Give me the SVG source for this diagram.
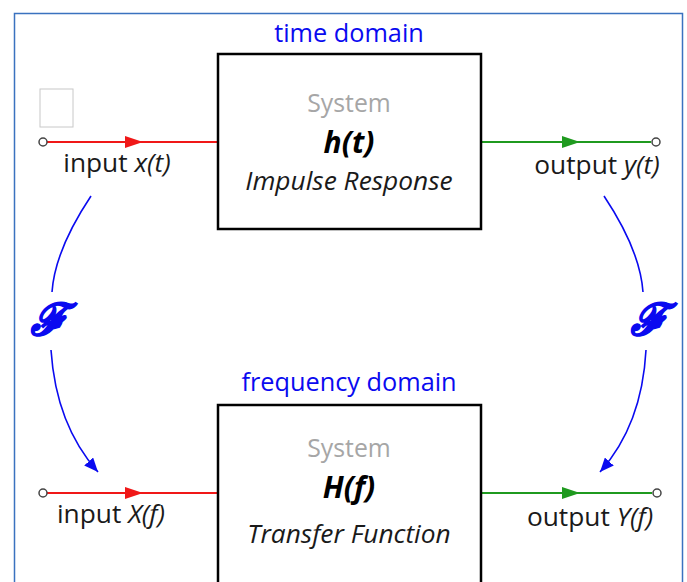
<svg xmlns="http://www.w3.org/2000/svg" width="687" height="582" viewBox="0 0 687 582">
<defs>
<style>
text{font-family:"Open Sans","Liberation Sans",sans-serif;}
.lbl{font-size:26.3px;fill:#1a1a1a;text-anchor:middle;}
.dom{font-size:25.3px;fill:#0a0af0;text-anchor:middle;}
.sys{font-size:24.8px;fill:#a6a6a6;text-anchor:middle;}
.fn{font-size:30px;font-weight:bold;font-style:italic;fill:#000;text-anchor:middle;}
.desc{font-size:26.3px;font-style:italic;fill:#1a1a1a;text-anchor:middle;}
.box{fill:#fff;stroke:#000;stroke-width:2.5;}
.red{stroke:#f01818;stroke-width:2;fill:none;}
.green{stroke:#1f9a1f;stroke-width:2;fill:none;}
.term{fill:#fff;stroke:#444;stroke-width:1.5;}
.ft{stroke:#0a0af0;stroke-width:1.6;fill:none;}
.F{font-family:"DejaVu Serif",serif;font-size:44px;font-weight:bold;font-style:italic;fill:#0a0af0;stroke:#0a0af0;stroke-width:1.4;text-anchor:middle;}
</style>
<marker id="ab" viewBox="0 0 14 12" refX="14" refY="6" markerWidth="14" markerHeight="12" markerUnits="userSpaceOnUse" orient="auto"><path d="M0,0 L14,6 L0,12 Z" fill="#0a0af0"/></marker>
</defs>
<rect x="14.5" y="13.5" width="668" height="600" fill="#fff" stroke="#3a72bf" stroke-width="1.5"/>
<rect x="40" y="89" width="33" height="38" fill="#fff" stroke="#c8c8c8" stroke-width="1"/>
<text class="dom" x="349" y="42">time domain</text>
<text class="dom" x="349" y="391">frequency domain</text>
<g id="connectors">
<path class="red" d="M47,142 H218"/>
<path d="M125,136 L143,142 L125,148 Z" fill="#f01818"/>
<circle class="term" cx="43" cy="142" r="4"/>
<path class="green" d="M481,142 H651"/>
<path d="M562,136 L580,142 L562,148 Z" fill="#1f9a1f"/>
<circle class="term" cx="656" cy="142" r="4"/>
<path class="red" d="M47,493 H218"/>
<path d="M125,487 L143,493 L125,499 Z" fill="#f01818"/>
<circle class="term" cx="43" cy="493" r="4"/>
<path class="green" d="M481,493 H652"/>
<path d="M562,487 L580,493 L562,499 Z" fill="#1f9a1f"/>
<circle class="term" cx="657" cy="493" r="4"/>
<path class="ft" d="M91,196 Q55,250 52,292"/>
<path class="ft" d="M51,350 Q56,425 98,472" marker-end="url(#ab)"/>
<path class="ft" d="M604,196 Q640,250 643,292"/>
<path class="ft" d="M646,350 Q642,425 600,472" marker-end="url(#ab)"/>
</g>
<text class="F" x="49" y="335">ℱ</text>
<text class="F" x="649" y="335">ℱ</text>
<text class="lbl" x="117" y="172">input <tspan font-style="italic">x(t)</tspan></text>
<text class="lbl" x="597" y="174">output <tspan font-style="italic">y(t)</tspan></text>
<text class="lbl" x="111" y="523">input <tspan font-style="italic">X(f)</tspan></text>
<text class="lbl" x="590" y="526">output <tspan font-style="italic">Y(f)</tspan></text>
<g id="sys-time">
<rect class="box" x="218" y="54" width="263" height="175"/>
<text class="sys" x="349" y="112">System</text>
<text class="fn" x="349" y="153">h(t)</text>
<text class="desc" x="349" y="190">Impulse Response</text>
</g>
<g id="sys-freq">
<rect class="box" x="218" y="405" width="263" height="200"/>
<text class="sys" x="349" y="457">System</text>
<text class="fn" x="349" y="498">H(f)</text>
<text class="desc" x="349" y="543">Transfer Function</text>
</g>
</svg>
